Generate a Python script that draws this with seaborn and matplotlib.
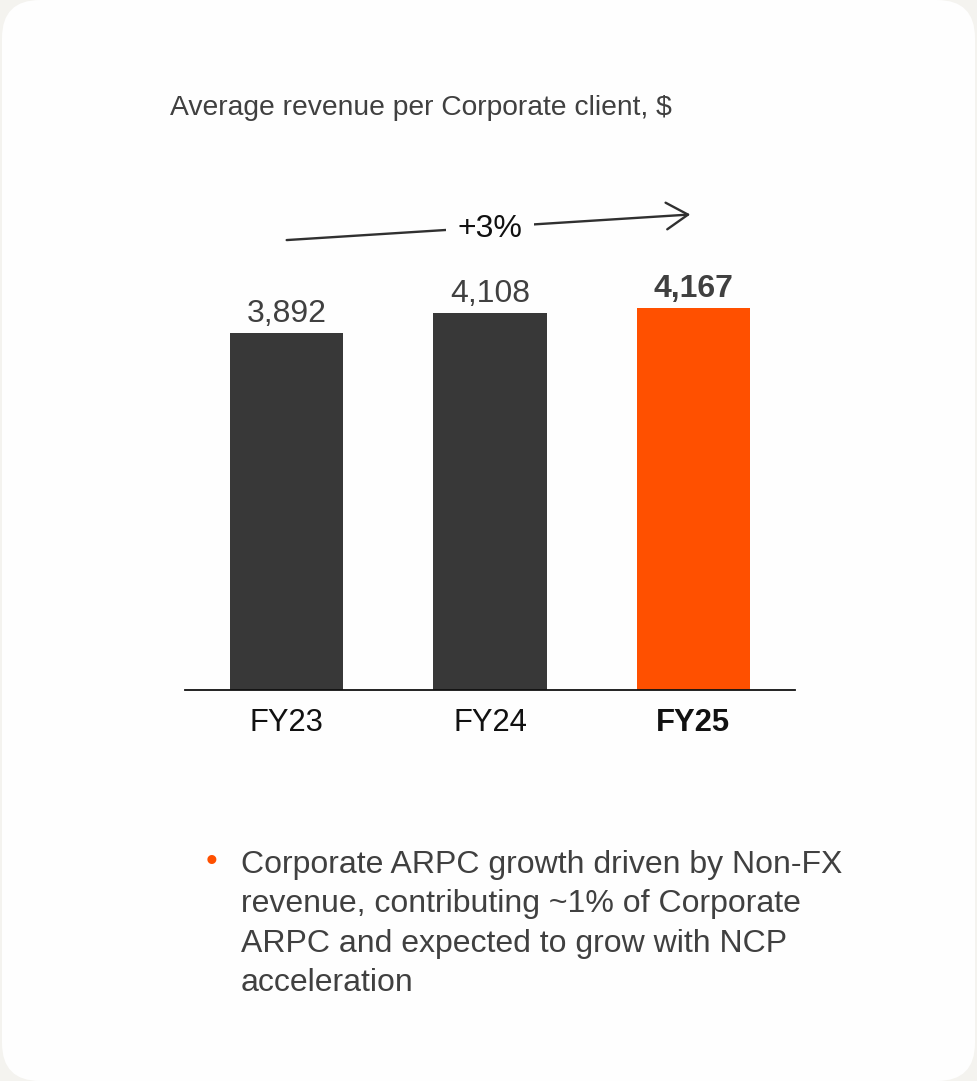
import matplotlib
matplotlib.use("Agg")
import matplotlib.pyplot as plt
from matplotlib.patches import FancyBboxPatch
import seaborn as sns

# Data
years = ["FY23", "FY24", "FY25"]
arpc = [3892, 4108, 4167]
growth_label = "+3%"
title = "Average revenue per Corporate client, $"
note = ("Corporate ARPC growth driven by Non-FX\n"
        "revenue, contributing ~1% of Corporate\n"
        "ARPC and expected to grow with NCP\n"
        "acceleration")

DARK = "#383838"
ORANGE = "#FF5000"
TEXT = "#404040"

sns.set_theme(style="white")
plt.rcParams["font.family"] = ["Liberation Sans", "DejaVu Sans"]

W, H, DPI = 978, 1081, 100
fig = plt.figure(figsize=(W / DPI, H / DPI), dpi=DPI)
fig.patch.set_facecolor("#F4F3EF")

# White rounded card behind everything
card = FancyBboxPatch((2 / DPI, 0), (975 - 2) / DPI, H / DPI,
                      boxstyle="round,pad=0,rounding_size=0.38",
                      transform=fig.dpi_scale_trans,
                      facecolor="#FEFEFE", edgecolor="none", zorder=-10)
fig.patches.append(card)

ax = fig.add_axes([185 / W, (H - 690) / H, 610 / W, 500 / H])
ax.set_facecolor("none")

sns.barplot(x=years, y=arpc, hue=years, palette=[DARK, DARK, ORANGE],
            legend=False, width=0.557, saturation=1, linewidth=0, ax=ax)

ax.set_xlim(-0.5, 2.5)
ax.set_ylim(0, 5455)
ax.set_yticks([])
ax.set_xlabel("")
ax.set_ylabel("")
for s in ["top", "right", "left"]:
    ax.spines[s].set_visible(False)
ax.spines["bottom"].set_color("#111111")
ax.spines["bottom"].set_linewidth(1.3)
ax.spines["bottom"].set_zorder(5)
ax.tick_params(axis="x", length=0, pad=13, labelsize=22.3, labelcolor="#111111")
for i, lbl in enumerate(ax.get_xticklabels()):
    if i == len(years) - 1:
        lbl.set_fontweight("bold")

# Value labels
for i, v in enumerate(arpc):
    last = i == len(arpc) - 1
    ax.annotate(f"{v:,}", (i, v), xytext=(0, 3), textcoords="offset points",
                ha="center", va="bottom", fontsize=23, color=TEXT,
                fontweight="bold" if last else "normal")

# Growth arrow across the bars
top = max(arpc)
ax.annotate("", xy=(1.985, top * 1.245), xytext=(0.0, top * 1.178),
            arrowprops=dict(arrowstyle="->,head_length=1.3,head_width=0.8",
                            color="#303030", lw=1.7, shrinkA=0, shrinkB=0))
ax.text(1.0, top * 1.207, growth_label, ha="center", va="center", fontsize=23,
        color="#111111",
        bbox=dict(boxstyle="square,pad=0.35", facecolor="#FEFEFE", edgecolor="none"))

# Title
fig.text(170 / W, 1 - 108 / H, title, ha="left", va="center",
         fontsize=20.3, color=TEXT)

# Bullet note
fig.text(212 / W, 1 - 862 / H, "•", ha="center", va="center",
         fontsize=24, color=ORANGE)
fig.text(241 / W, 1 - 850 / H, note, ha="left", va="top",
         fontsize=23, color=TEXT, linespacing=1.41)

fig.savefig("out.png", dpi=DPI, facecolor=fig.get_facecolor())
